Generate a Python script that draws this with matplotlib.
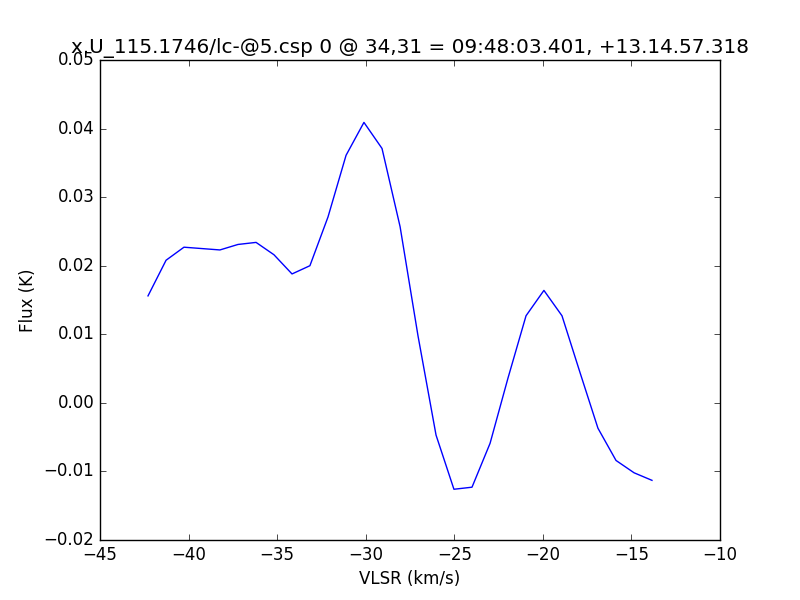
import matplotlib
matplotlib.use('Agg')
import matplotlib.pyplot as plt

plt.style.use('classic')

vlsr = [-42.29, -41.27, -40.26, -38.23, -37.21, -36.19, -35.18, -34.16,
        -33.15, -32.13, -31.11, -30.10, -29.08, -28.06, -27.05, -26.03,
        -25.02, -24.00, -22.98, -21.97, -20.95, -19.94, -18.92, -17.90,
        -16.89, -15.87, -14.85, -13.84]
flux = [0.0156, 0.0208, 0.0227, 0.0223, 0.0231, 0.0234, 0.0216, 0.0188,
        0.0200, 0.0271, 0.0361, 0.0409, 0.0371, 0.0257, 0.0098, -0.0047,
        -0.0126, -0.0123, -0.0059, 0.0036, 0.0127, 0.0164, 0.0127, 0.0044,
        -0.0037, -0.0084, -0.0102, -0.0113]

fig = plt.figure(figsize=(8, 6), dpi=100)
ax = fig.add_subplot(1, 1, 1)
ax.plot(vlsr, flux, color='b', linewidth=1)
ax.set_xlim(-45, -10)
ax.set_ylim(-0.02, 0.05)
ax.set_xlabel('VLSR (km/s)')
ax.set_ylabel('Flux (K)')
ax.set_title('x.U_115.1746/lc-@5.csp 0 @ 34,31 = 09:48:03.401, +13.14.57.318')

fig.savefig('out.png', dpi=100)
